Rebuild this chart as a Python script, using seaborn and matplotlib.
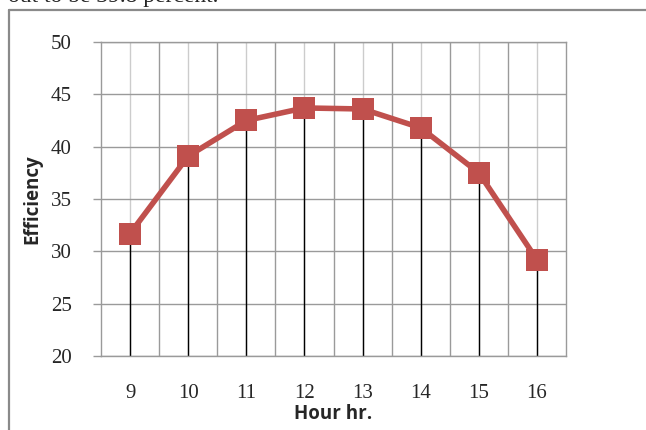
import matplotlib
matplotlib.use("Agg")
import matplotlib.pyplot as plt
import seaborn as sns
import pandas as pd
import numpy as np

hours = [9, 10, 11, 12, 13, 14, 15, 16]
efficiency = [31.7, 39.1, 42.5, 43.7, 43.6, 41.8, 37.5, 29.2]
y_ticks = [20, 25, 30, 35, 40, 45, 50]
x_label = "Hour hr."
y_label = "Efficiency"
caption_text = "out to be 39.8 percent."

df = pd.DataFrame({"hour": hours, "eff": efficiency})

sns.set_theme(style="white")
plt.rcParams["font.family"] = ["Liberation Serif", "DejaVu Serif"]

fig = plt.figure(figsize=(6.46, 4.30), dpi=100)
ax = fig.add_axes([101 / 646, 1 - 356 / 430, 465 / 646, 314 / 430])
ax.set_facecolor("white")

# grid lines
xmin, xmax = hours[0] - 0.5, hours[-1] + 0.5
ax.set_xlim(xmin, xmax)
ax.set_ylim(y_ticks[0], y_ticks[-1])
ax.set_xticks(hours)
ax.set_xticks([h + 0.5 for h in hours[:-1]], minor=True)
ax.set_yticks(y_ticks)
ax.grid(False)
ax.grid(True, which="major", axis="y", color="#9a9a9a", linewidth=1.0, zorder=0)
ax.grid(True, which="minor", axis="x", color="#9a9a9a", linewidth=1.0, zorder=0)
ax.grid(True, which="major", axis="x", color="#cccccc", linewidth=1.0, zorder=0)
ax.set_axisbelow(True)

# drop lines
ax.vlines(df["hour"], y_ticks[0], df["eff"], colors="black", linewidth=1.0, zorder=2)

sns.lineplot(data=df, x="hour", y="eff", ax=ax, color="#C0504D", linewidth=4.0,
             marker="s", markersize=16, markeredgewidth=0, zorder=3)

for s in ax.spines.values():
    s.set_color("#9a9a9a")
    s.set_linewidth(1.0)

ax.tick_params(axis="y", which="major", length=6, width=1.0, color="#9a9a9a",
               pad=15, labelsize=15, left=True)
ax.tick_params(axis="x", which="both", length=0, pad=20, labelsize=15, bottom=False)
ax.set_xticklabels([str(h) for h in hours])
ax.set_yticklabels([str(v) for v in y_ticks])

ax.set_xlabel(x_label, fontsize=13.5, fontweight="bold", family=["Open Sans", "DejaVu Sans"],
              labelpad=1)
ax.set_ylabel(y_label, fontsize=13.5, fontweight="bold", family=["Open Sans", "DejaVu Sans"],
              labelpad=6)

# outer frame of the embedded chart
fig.add_artist(plt.Line2D([8.5 / 646, 8.5 / 646], [0, 1 - 9.5 / 430], transform=fig.transFigure,
                          color="#8a8a8a", linewidth=1.6))
fig.add_artist(plt.Line2D([8.5 / 646, 1], [1 - 9.5 / 430, 1 - 9.5 / 430], transform=fig.transFigure,
                          color="#8a8a8a", linewidth=1.6))
fig.text(8 / 646, 1 - 2 / 430, caption_text, fontsize=17, va="baseline", ha="left",
         family=["Liberation Serif"])

fig.savefig("out.png", dpi=100)
